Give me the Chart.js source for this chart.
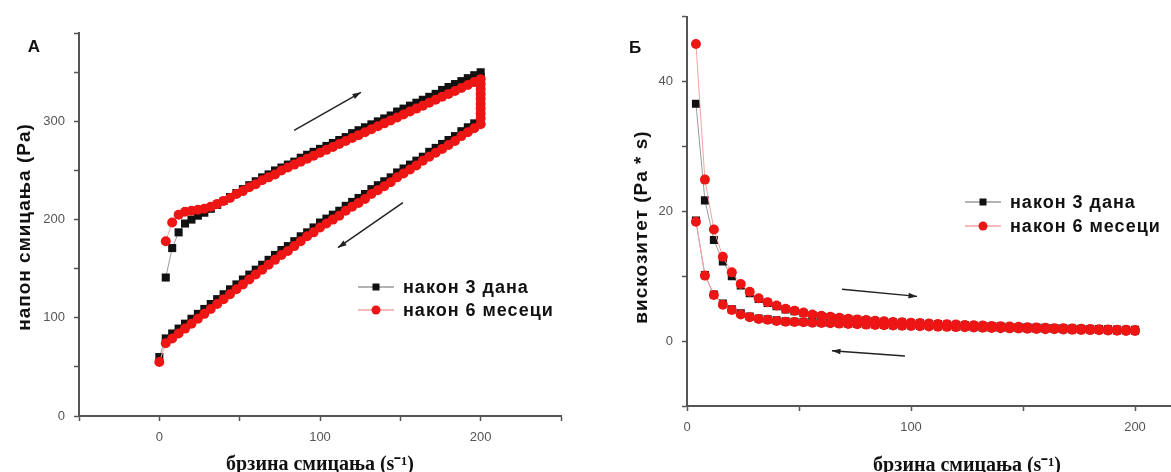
<!DOCTYPE html>
<html>
<head>
<meta charset="utf-8">
<script src="https://cdn.jsdelivr.net/npm/chart.js@4.4.1/dist/chart.umd.min.js"></script>
<style>
html,body{margin:0;padding:0;background:#fff;overflow:hidden;width:1171px;height:472px;}
#wrapA{position:absolute;left:0;top:0;}
#wrapB{position:absolute;left:590px;top:0;}
</style>
</head>
<body>
<div id="wrapA"><canvas id="chartA" width="585" height="480"></canvas></div>
<div id="wrapB"><canvas id="chartB" width="700" height="480"></canvas></div>
<script>
// shear rate steps (s^-1)
var rate = [4,8,12,16,20,24,28,32,36,40,44,48,52,56,60,64,68,72,76,80,84,88,92,96,100,
    104,108,112,116,120,124,128,132,136,140,144,148,152,156,160,164,168,172,176,180,184,188,192,196,200];
var rateDown = [0,4,8,12,16,20,24,28,32,36,40,44,48,52,56,60,64,68,72,76,80,84,88,92,96,100,
    104,108,112,116,120,124,128,132,136,140,144,148,152,156,160,164,168,172,176,180,184,188,192,196,200];

var seriesNames = ['након 3 дана', 'након 6 месеци'];

// A: shear stress (Pa), ramp up
var stressUp3d = [141,171,187,196,200,204,207,211,215,219,223,227,231,235,239,243,246,250,253,256,
    259,263,266,269,272,275,278,281,284,288,291,294,297,300,303,306,310,313,316,319,
    322,325,328,332,335,338,341,344,347,350];
var stressUp6m = [178,197,205,208,209,210,211,213,216,219,222,226,229,233,236,240,243,246,250,253,
    256,259,262,265,268,271,274,277,280,283,286,289,292,295,298,301,304,307,310,313,
    316,319,322,325,328,331,334,337,340,343];
// A: hold at 200 s^-1
var stressHold3d = [345,340,335,330,325,320,315,310,306];
var stressHold6m = [338,333,328,323,318,313,308,303];
// A: ramp down (listed by increasing rate)
var stressDown3d = [60,79,84,89,94,99,104,109,114,119,124,129,134,139,144,149,154,159,164,169,173,
    178,183,187,192,197,201,205,209,214,218,222,226,231,235,239,243,248,252,256,260,
    264,269,273,277,281,285,290,294,298,302];
var stressDown6m = [55,74,79,84,89,94,99,104,109,114,119,124,129,134,139,144,149,154,159,164,168,
    173,178,183,187,192,196,200,204,209,213,217,221,226,230,234,238,243,247,251,255,
    260,264,268,272,276,280,285,289,293,297];

// Б: viscosity (Pa*s)
var viscUp3d = [36.6,21.7,15.6,12.3,10.0,8.6,7.4,6.5,5.9,5.4,4.9,4.6,4.3,4.0,3.85,3.7,3.55,3.4,3.3,3.2,
    3.1,3.0,2.92,2.85,2.8,2.75,2.68,2.62,2.57,2.52,2.47,2.42,2.37,2.33,2.28,2.23,2.19,2.15,2.1,2.06,
    2.02,1.98,1.95,1.91,1.88,1.85,1.82,1.79,1.76,1.74];
var viscUp6m = [45.8,24.9,17.2,13.0,10.6,8.8,7.6,6.6,6.0,5.5,5.0,4.7,4.4,4.1,3.9,3.75,3.6,3.45,3.35,3.25,
    3.15,3.05,2.95,2.9,2.85,2.8,2.7,2.65,2.6,2.55,2.5,2.45,2.4,2.35,2.3,2.25,2.2,2.15,2.1,2.05,
    2.0,1.97,1.93,1.9,1.86,1.83,1.8,1.77,1.74,1.71];
var viscDown3d = [18.6,10.2,7.2,5.8,4.9,4.3,3.8,3.5,3.35,3.2,3.05,3.0,2.95,2.9,2.85,2.8,2.75,2.7,2.65,2.6,
    2.55,2.5,2.47,2.43,2.4,2.35,2.32,2.28,2.25,2.21,2.18,2.15,2.11,2.08,2.05,2.02,1.99,1.96,1.93,1.9,
    1.87,1.84,1.81,1.78,1.75,1.72,1.69,1.66,1.63,1.6];
var viscDown6m = [18.4,10.1,7.1,5.6,4.8,4.1,3.7,3.4,3.3,3.1,3.0,2.95,2.9,2.85,2.8,2.75,2.7,2.65,2.6,2.55,
    2.5,2.45,2.42,2.38,2.35,2.3,2.27,2.23,2.2,2.16,2.13,2.1,2.06,2.03,2.0,1.97,1.94,1.91,1.88,1.85,
    1.82,1.79,1.76,1.73,1.7,1.67,1.64,1.61,1.58,1.55];

// up ramp -> hold -> down ramp as one path
function loop(up, hold, downRates, down){
    var pts = [];
    for(var i=0;i<up.length;i++) pts.push({x:rate[i], y:up[i]});
    var top = rate[rate.length-1];
    for(var j=0;j<hold.length;j++) pts.push({x:top, y:hold[j]});
    for(var k=down.length-1;k>=0;k--) pts.push({x:downRates[k], y:down[k]});
    return pts;
}

function makeSets(pts3d, pts6m){
    return [
        {label:seriesNames[0], data:pts3d, showLine:true, order:2,
         borderColor:'#9a9a9a', borderWidth:1, pointStyle:'rect', pointRadius:5.7,
         pointBackgroundColor:'#111', pointBorderColor:'#111', pointBorderWidth:0},
        {label:seriesNames[1], data:pts6m, showLine:true, order:1,
         borderColor:'#f4a3a3', borderWidth:1, pointStyle:'circle', pointRadius:5,
         pointBackgroundColor:'#ee1515', pointBorderColor:'#ee1515', pointBorderWidth:0}
    ];
}

var sansBold = '"Liberation Sans", Arial, sans-serif';

// arrows, legend, panel letters, y titles
var decor = {
    id:'decor',
    afterDatasetsDraw:function(chart, args, opts){
        var ctx = chart.ctx, xs = chart.scales.x, ys = chart.scales.y;
        ctx.save();
        opts.arrows.forEach(function(a){
            var x1 = xs.getPixelForValue(a[0]), y1 = ys.getPixelForValue(a[1]);
            var x2 = xs.getPixelForValue(a[2]), y2 = ys.getPixelForValue(a[3]);
            ctx.strokeStyle = '#222'; ctx.fillStyle = '#222'; ctx.lineWidth = 1.5;
            ctx.beginPath(); ctx.moveTo(x1,y1); ctx.lineTo(x2,y2); ctx.stroke();
            var ang = Math.atan2(y2-y1, x2-x1);
            ctx.beginPath(); ctx.moveTo(x2,y2);
            ctx.lineTo(x2-9*Math.cos(ang-0.32), y2-9*Math.sin(ang-0.32));
            ctx.lineTo(x2-9*Math.cos(ang+0.32), y2-9*Math.sin(ang+0.32));
            ctx.closePath(); ctx.fill();
        });
        // legend
        var lg = opts.legend;
        chart.data.datasets.forEach(function(ds, i){
            var y = lg.y + i*lg.gap;
            ctx.strokeStyle = ds.borderColor; ctx.lineWidth = 1.5;
            ctx.beginPath(); ctx.moveTo(lg.x, y); ctx.lineTo(lg.x+36, y); ctx.stroke();
            ctx.fillStyle = ds.pointBackgroundColor;
            ctx.beginPath();
            if(ds.pointStyle=='rect') ctx.rect(lg.x+18-3.5, y-3.5, 7, 7);
            else ctx.arc(lg.x+18, y, 4.5, 0, Math.PI*2);
            ctx.fill();
            ctx.fillStyle = '#111';
            ctx.font = 'bold 18px ' + sansBold;
            ctx.letterSpacing = '1px';
            ctx.textAlign = 'left'; ctx.textBaseline = 'middle';
            ctx.fillText(ds.label, lg.x+45, y+1);
            ctx.letterSpacing = '0px';
        });
        opts.texts.forEach(function(t){
            ctx.save();
            ctx.translate(t.x, t.y);
            if(t.rot) ctx.rotate(t.rot);
            ctx.font = t.font; ctx.fillStyle = '#111';
            ctx.letterSpacing = t.ls || '0px';
            ctx.textAlign = 'center'; ctx.textBaseline = 'middle';
            ctx.fillText(t.text, 0, 0);
            ctx.restore();
        });
        ctx.restore();
    }
};

function axis(min, max, step, every, title, fit, titleOpts){
    var a = {
        type:'linear', min:min, max:max,
        grid:{display:true, drawOnChartArea:false, drawTicks:true, tickLength:5, tickColor:'#555', tickWidth:1.5},
        border:{display:true, color:'#555', width:2},
        ticks:{stepSize:step, autoSkip:false, color:'#555', padding:fit.pad,
            font:{family:'"Liberation Sans", Arial, sans-serif', size:13},
            callback:function(v){ return v % every === 0 ? v : ''; }},
        afterFit:function(s){ if(fit.w) s.width = fit.w; if(fit.h) s.height = fit.h; }
    };
    if(title) a.title = Object.assign({display:true, text:title, color:'#111'}, titleOpts);
    return a;
}

var xTitleFont = {family:'"Liberation Serif", "Times New Roman", serif', weight:'bold', size:20};

var chartA = new Chart(document.getElementById('chartA'), {
    type:'scatter',
    data:{datasets: makeSets(loop(stressUp3d, stressHold3d, rateDown, stressDown3d),
                             loop(stressUp6m, stressHold6m, rateDown, stressDown6m))},
    options:{
        responsive:false, animation:false, devicePixelRatio:1, events:[],
        layout:{padding:{top:33, right:24, left:0, bottom:0}},
        plugins:{legend:{display:false}, tooltip:{enabled:false},
            decor:{
                arrows:[[83.9,290.8,125.5,329.6],[151.6,217.3,111.2,171.4]],
                legend:{x:358, y:287, gap:23},
                texts:[{text:'A', x:34, y:47, font:'bold 17px ' + sansBold},
                       {text:'напон смицања (Pa)', x:25, y:227, rot:-Math.PI/2, ls:'1px',
                        font:'bold 19px ' + sansBold}]
            }},
        scales:{
            x: axis(-50, 250, 50, 100, 'брзина смицања (s\u207B\u00B9)', {h:64, pad:9},
                {font:xTitleFont, padding:{top:0, bottom:3}}),
            y: axis(0, 390, 50, 100, null, {w:79, pad:9})
        }
    },
    plugins:[decor]
});

var chartB = new Chart(document.getElementById('chartB'), {
    type:'scatter',
    data:{datasets: makeSets(loop(viscUp3d, [], rate, viscDown3d),
                             loop(viscUp6m, [], rate, viscDown6m))},
    options:{
        responsive:false, animation:false, devicePixelRatio:1, events:[],
        layout:{padding:{top:15, right:43, left:0, bottom:0}},
        plugins:{legend:{display:false}, tooltip:{enabled:false},
            decor:{
                arrows:[[69.2,8.0,102.7,6.9],[97.3,-2.3,64.7,-1.5]],
                legend:{x:375, y:202, gap:24},
                texts:[{text:'Б', x:45, y:48, font:'bold 17px ' + sansBold},
                       {text:'вискозитет (Pa * s)', x:52, y:227, rot:-Math.PI/2, ls:'1px',
                        font:'bold 19px ' + sansBold}]
            }},
        scales:{
            x: axis(0, 250, 50, 100, 'брзина смицања (s\u207B\u00B9)', {h:74, pad:9},
                {font:xTitleFont, padding:{top:0, bottom:2}}),
            y: axis(-10, 50, 10, 20, null, {w:97, pad:9})
        }
    },
    plugins:[decor]
});
</script>
</body>
</html>
